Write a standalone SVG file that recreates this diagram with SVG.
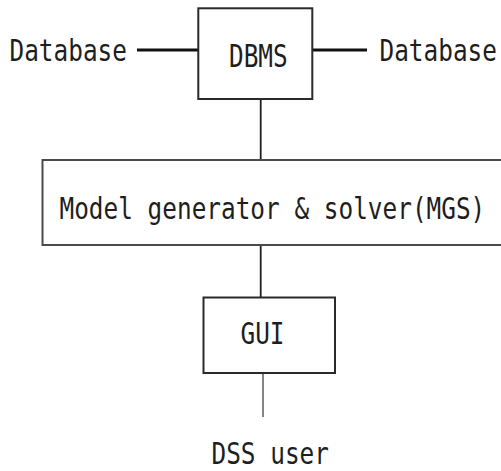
<svg xmlns="http://www.w3.org/2000/svg" width="501" height="471" viewBox="0 0 501 471">
  <style>
    .box { fill: #ffffff; stroke: #2a2a2a; stroke-width: 2; }
    .lbl { font-family: "DejaVu Sans Mono", "Liberation Mono", monospace; font-size: 24.4px; fill: #1e1e1e; }
    .wire { stroke: #1e1e1e; stroke-width: 1.8; fill: none; }
    .thick { stroke: #111111; stroke-width: 3.2; fill: none; }
  </style>
  <rect width="501" height="471" fill="#ffffff"/>

  <g id="connectors">
    <line class="thick" x1="137" y1="50" x2="198" y2="50"/>
    <line class="thick" x1="311" y1="50" x2="367" y2="50"/>
    <line class="wire" x1="260.7" y1="99" x2="260.7" y2="160"/>
    <line class="wire" x1="260.7" y1="245" x2="260.7" y2="297"/>
    <line class="wire" x1="263" y1="373" x2="263" y2="417" style="stroke:#777777"/>
  </g>

  <!-- labels use a tall, narrow monospace: glyphs stretched vertically -->
  <g id="db-left">
    <text class="lbl" transform="translate(9.5 60.7) scale(1 1.27)">Database</text>
  </g>

  <g id="db-right">
    <text class="lbl" transform="translate(379.5 60.7) scale(1 1.27)">Database</text>
  </g>

  <g id="dbms">
    <rect class="box" x="198.3" y="8.3" width="114" height="90.7"/>
    <text class="lbl" transform="translate(229 67) scale(1 1.32)">DBMS</text>
  </g>

  <g id="mgs">
    <!-- the right side runs on past the edge of the sheet -->
    <path class="box" d="M501 160 H42.5 V245 H501" style="stroke:#4a4a4a"/>
    <text class="lbl" transform="translate(59.5 219.3) scale(1 1.27)">Model generator &amp; solver(MGS)</text>
  </g>

  <g id="gui">
    <rect class="box" x="203.5" y="297.5" width="131.5" height="75.5"/>
    <text class="lbl" transform="translate(240.5 344) scale(1 1.27)">GUI</text>
  </g>

  <g id="dss-user">
    <text class="lbl" transform="translate(211.5 463.5) scale(1 1.25)">DSS user</text>
  </g>
</svg>
